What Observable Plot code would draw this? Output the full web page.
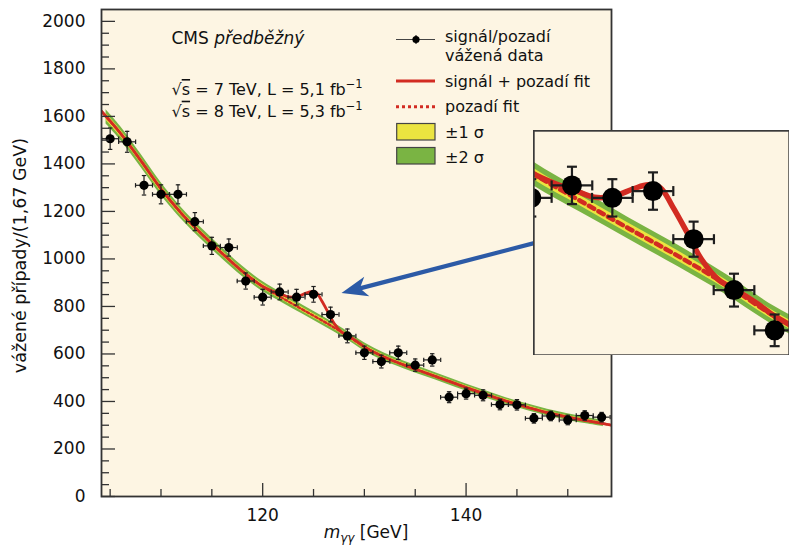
<!DOCTYPE html>
<html>
<head>
<meta charset="utf-8">
<script src="https://cdn.jsdelivr.net/npm/d3@7"></script>
<script src="https://cdn.jsdelivr.net/npm/@observablehq/plot@0.6"></script>
<style>
  body { margin: 0; background: #fff; }
  #wrap { position: relative; width: 795px; height: 546px; overflow: hidden; }
  #inset { position: absolute; left: 533px; top: 130px; width: 256px; height: 225px; }
  #inset svg { overflow: hidden; }
</style>
</head>
<body>
<div id="wrap"><div id="main"></div><div id="inset"></div></div>
<script>
// ---------- data ----------
const massBins = [105.0, 106.67, 108.33, 110.0, 111.67, 113.33, 115.0, 116.67, 118.33, 120.0,
                  121.67, 123.33, 125.0, 126.67, 128.33, 130.0, 131.67, 133.33, 135.0, 136.67,
                  138.33, 140.0, 141.67, 143.33, 145.0, 146.67, 148.33, 150.0, 151.67, 153.33];
const weightedEvents = [1506, 1493, 1310, 1272, 1272, 1157, 1055, 1048, 907, 839,
                        861, 839, 851, 766, 676, 605, 568, 605, 553, 575,
                        418, 433, 426, 387, 386, 329, 339, 322, 341, 334];
const eventErrors = [45, 44, 41, 40, 40, 38, 36, 36, 34, 33,
                     33, 33, 33, 31, 29, 28, 27, 28, 26, 26,
                     23, 23, 23, 22, 22, 20, 20, 20, 20, 20];
const binHalfWidth = 0.835;

const bgMass = [104.15, 104.6, 106, 108, 110, 112, 114, 116, 118, 120, 122, 124, 126, 128, 130,
                132, 134, 136, 138, 140, 142, 144, 146, 148, 150, 152, 153.5, 154.3];
const bgFit  = [1622, 1598, 1530, 1415, 1295, 1192, 1105, 1024, 948, 884, 834, 785, 737, 686, 630,
                586, 552, 521, 490, 459, 429, 401, 376, 353, 334, 318, 307, 300];
const sigma1 = [15, 14, 14, 13, 13, 12, 11, 11, 10, 10, 9, 9, 9, 8, 8,
                8, 8, 7, 7, 7, 7, 7, 7, 6, 6, 6, 6, 6];
const sigma2 = [31, 30, 29, 28, 27, 25, 24, 23, 22, 21, 20, 19, 19, 18, 17,
                17, 16, 16, 15, 15, 15, 14, 14, 14, 14, 13, 13, 13];
const bandStart = 104.6, bandEnd = 153.5;

const sbMass = [104.15, 106, 108, 110, 112, 114, 116, 118, 120, 121, 121.8, 122.6, 123.4, 124.2,
                124.8, 125.3, 125.8, 126.4, 127, 127.7, 128.5, 129.3, 130, 132, 134, 136, 138,
                140, 142, 144, 146, 148, 150, 152, 154.3];
const sbFit  = [1622, 1530, 1415, 1295, 1192, 1105, 1024, 948, 884, 864, 852, 840, 842, 855,
                862, 857, 824, 778, 730, 694, 674, 652, 630, 586, 552, 521, 490,
                459, 429, 401, 376, 353, 334, 318, 300];

const yMajorTicks = [0, 200, 400, 600, 800, 1000, 1200, 1400, 1600, 1800, 2000];
const yMinorTicks = [50, 100, 150, 250, 300, 350, 450, 500, 550, 650, 700, 750, 850, 900, 950,
                     1050, 1100, 1150, 1250, 1300, 1350, 1450, 1500, 1550, 1650, 1700, 1750,
                     1850, 1900, 1950];
const xMajorTicks = [120, 140];
const xMinorTicks = [105, 110, 115, 125, 130, 135, 145, 150];

const arrowSpec = {x1: 147.5, y1: 1073, x2: 127.8, y2: 854};

const energies = ["7", "8"];
const lumis = ["5,1", "5,3"];

// ---------- styling ----------
const cream = "#fdf5e3";
const red = "#d22b22";
const green = "#7ab443";
const yellow = "#ebe440";
const blue = "#2c5aa6";
const ink = "#1e1e1e";

const points = massBins.map((x, i) => ({x, y: weightedEvents[i], e: eventErrors[i]}));
const bg = bgMass.map((x, i) => ({x, y: bgFit[i], s1: sigma1[i], s2: sigma2[i]}));
const band = bg.filter(d => d.x >= bandStart && d.x <= bandEnd);
const sb = sbMass.map((x, i) => ({x, y: sbFit[i]}));

const hCap = {draw(ctx, size) { const r = Math.sqrt(size / Math.PI); ctx.moveTo(-r, 0); ctx.lineTo(r, 0); }};
const vCap = {draw(ctx, size) { const r = Math.sqrt(size / Math.PI); ctx.moveTo(0, -r); ctx.lineTo(0, r); }};

function dataMarks(o) {
  return [
    Plot.areaY(band, {x: "x", y1: d => d.y - d.s2, y2: d => d.y + d.s2, fill: green, curve: "catmull-rom", clip: true}),
    Plot.areaY(band, {x: "x", y1: d => d.y - d.s1, y2: d => d.y + d.s1, fill: yellow, curve: "catmull-rom", clip: true}),
    Plot.lineY(bg, {x: "x", y: "y", stroke: red, strokeWidth: o.dotW, strokeDasharray: o.dash, curve: "catmull-rom", clip: true}),
    Plot.lineY(sb, {x: "x", y: "y", stroke: red, strokeWidth: o.lineW, curve: "catmull-rom", clip: true}),
    Plot.ruleX(points, {x: "x", y1: d => d.y - d.e, y2: d => d.y + d.e, stroke: ink, strokeWidth: o.errW, clip: true}),
    Plot.ruleY(points, {y: "y", x1: d => d.x - binHalfWidth, x2: d => d.x + binHalfWidth, stroke: ink, strokeWidth: o.errW, clip: true}),
    Plot.dot(points, {x: "x", y: d => d.y + d.e, symbol: hCap, r: o.cap, fill: "none", stroke: ink, strokeWidth: o.errW, clip: true}),
    Plot.dot(points, {x: "x", y: d => d.y - d.e, symbol: hCap, r: o.cap, fill: "none", stroke: ink, strokeWidth: o.errW, clip: true}),
    Plot.dot(points, {x: d => d.x - binHalfWidth, y: "y", symbol: vCap, r: o.cap, fill: "none", stroke: ink, strokeWidth: o.errW, clip: true}),
    Plot.dot(points, {x: d => d.x + binHalfWidth, y: "y", symbol: vCap, r: o.cap, fill: "none", stroke: ink, strokeWidth: o.errW, clip: true}),
    Plot.dot(points, {x: "x", y: "y", r: o.dotR, fill: "#000", stroke: "none", clip: true})
  ];
}

// ---------- main plot ----------
const W = 795, H = 546, mL = 101, mR = 184, mT = 9, mB = 50;
const frameW = W - mL - mR, frameH = H - mT - mB;

const main = Plot.plot({
  width: W, height: H,
  marginLeft: mL, marginRight: mR, marginTop: mT, marginBottom: mB,
  style: {fontFamily: "DejaVu Sans", fontSize: "17px", color: "#111", background: "#fff"},
  x: {domain: [104.15, 154.3]},
  y: {domain: [0, 2050]},
  marks: [
    Plot.frame({fill: cream}),
    ...dataMarks({dotW: 2.4, dash: "2.6,2.4", lineW: 2.8, errW: 1.2, cap: 2.2, dotR: 4.6}),
    Plot.tickY(yMajorTicks, {y: d => d, insetRight: frameW - 14, stroke: "#333", strokeWidth: 1.3}),
    Plot.tickY(yMinorTicks, {y: d => d, insetRight: frameW - 8, stroke: "#333", strokeWidth: 1.3}),
    Plot.tickX(xMajorTicks, {x: d => d, insetTop: frameH - 13, stroke: "#333", strokeWidth: 1.3}),
    Plot.tickX(xMinorTicks, {x: d => d, insetTop: frameH - 7, stroke: "#333", strokeWidth: 1.3}),
    Plot.axisY(yMajorTicks, {tickSize: 0, tickPadding: 16, tickFormat: d => String(d), label: null, fill: "#111"}),
    Plot.axisX(xMajorTicks, {tickSize: 0, tickPadding: 12, tickFormat: d => String(d), label: null, fill: "#111"}),
    Plot.frame({stroke: "#333", strokeWidth: 1.8})
  ]
});
document.getElementById("main").appendChild(main);

const s = d3.select(main);
const sx = main.scale("x"), sy = main.scale("y");

// arrow (shaft + filled stealth head), positioned through the plot's scales
{
  const ax1 = sx.apply(arrowSpec.x1), ay1 = sy.apply(arrowSpec.y1);
  const ax2 = sx.apply(arrowSpec.x2), ay2 = sy.apply(arrowSpec.y2);
  const ang = Math.atan2(ay1 - ay2, ax1 - ax2);
  const pt = (len, a) => [ax2 + len * Math.cos(ang + a), ay2 + len * Math.sin(ang + a)];
  const notch = pt(19, 0);
  const g = s.insert("g", "g[aria-label='tick']");
  g.append("line").attr("x1", ax1).attr("y1", ay1).attr("x2", notch[0]).attr("y2", notch[1])
    .attr("stroke", blue).attr("stroke-width", 4.2);
  g.append("polygon").attr("fill", blue)
    .attr("points", [[ax2, ay2], pt(28, 0.37), notch, pt(28, -0.37)].map(p => p.join(",")).join(" "));
}

// axis titles
s.append("text").attr("transform", "translate(26,255.5) rotate(-90)")
  .attr("text-anchor", "middle").attr("font-size", 17.5).attr("fill", "#111")
  .text("vážené případy/(1,67 GeV)");
const xl = s.append("text").attr("x", 366).attr("y", 538).attr("text-anchor", "middle")
  .attr("font-size", 17).attr("fill", "#111");
xl.append("tspan").attr("font-style", "italic").text("m");
xl.append("tspan").attr("font-style", "italic").attr("font-size", 12).attr("dy", 4).text("γγ");
xl.append("tspan").attr("dy", -4).text(" [GeV]");

// annotations
const ann = s.append("g").attr("fill", "#111").attr("text-anchor", "start");
const t0 = ann.append("text").attr("x", 171.5).attr("y", 43.5).attr("font-size", 17);
t0.append("tspan").text("CMS ");
t0.append("tspan").attr("font-style", "italic").text("předběžný");
energies.forEach((e, i) => {
  const t = ann.append("text").attr("x", 171.5).attr("y", 95 + i * 21.7).attr("font-size", 16);
  t.append("tspan").text("√");
  t.append("tspan").attr("text-decoration", "overline").text("s");
  t.append("tspan").text(` = ${e} TeV, L = ${lumis[i]} fb`);
  t.append("tspan").attr("dy", -7).attr("font-size", 11.5).text("−1");
});

// legend
const lg = s.append("g").attr("font-size", 16).attr("fill", "#111").attr("text-anchor", "start");
lg.append("line").attr("x1", 396).attr("x2", 435).attr("y1", 39.5).attr("y2", 39.5).attr("stroke", "#444").attr("stroke-width", 1.2);
lg.append("line").attr("x1", 416).attr("x2", 416).attr("y1", 35).attr("y2", 44).attr("stroke", "#222").attr("stroke-width", 1.2);
lg.append("circle").attr("cx", 416).attr("cy", 39.5).attr("r", 3.6).attr("fill", "#000");
lg.append("text").attr("x", 445).attr("y", 42).text("signál/pozadí");
lg.append("text").attr("x", 445).attr("y", 61).text("vážená data");
lg.append("line").attr("x1", 396).attr("x2", 435).attr("y1", 81).attr("y2", 81).attr("stroke", red).attr("stroke-width", 3);
lg.append("text").attr("x", 445).attr("y", 86.5).text("signál + pozadí fit");
lg.append("line").attr("x1", 396).attr("x2", 435).attr("y1", 106.7).attr("y2", 106.7).attr("stroke", red).attr("stroke-width", 3).attr("stroke-dasharray", "3,3");
lg.append("text").attr("x", 445).attr("y", 111.5).text("pozadí fit");
lg.append("rect").attr("x", 396.7).attr("y", 123.5).attr("width", 38.3).attr("height", 16.5).attr("fill", yellow).attr("stroke", "#444").attr("stroke-width", 1.2);
lg.append("text").attr("x", 445).attr("y", 137.5).text("±1 σ");
lg.append("rect").attr("x", 396.7).attr("y", 147.5).attr("width", 38.3).attr("height", 16.5).attr("fill", green).attr("stroke", "#444").attr("stroke-width", 1.2);
lg.append("text").attr("x", 445).attr("y", 162.5).text("±2 σ");

// ---------- inset (zoom on the excess) ----------
const inset = Plot.plot({
  width: 256, height: 225, margin: 0,
  style: {background: cream},
  x: {domain: [120.09, 130.61], axis: null},
  y: {domain: [560.5, 958], axis: null},
  marks: [
    Plot.frame({fill: cream}),
    ...dataMarks({dotW: 4.5, dash: "6,5", lineW: 5.5, errW: 2.2, cap: 5, dotR: 10}),
    Plot.frame({stroke: "#3a3a3a", strokeWidth: 2.4})
  ]
});
document.getElementById("inset").appendChild(inset);
</script>
</body>
</html>
